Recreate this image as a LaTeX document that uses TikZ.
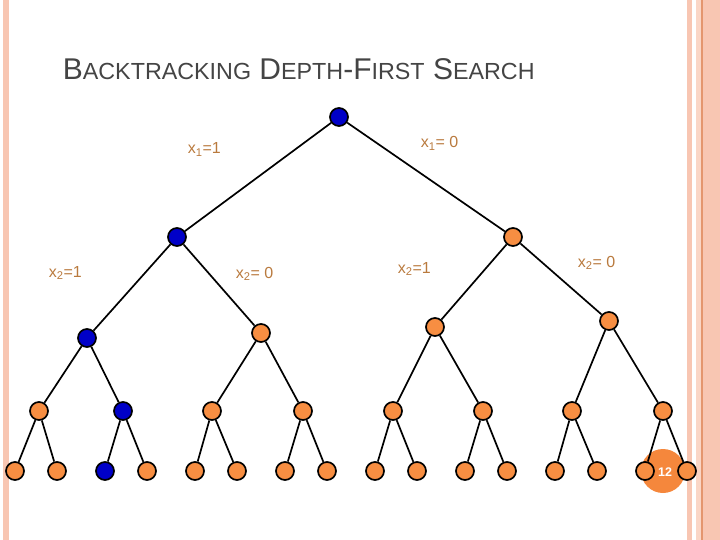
\documentclass[tikz,border=0pt]{standalone}
\usepackage{fontspec}
\setmainfont{Liberation Sans}
\definecolor{nodeorange}{RGB}{247,142,66}
\definecolor{nodeblue}{RGB}{0,0,200}
\definecolor{labelbrown}{RGB}{185,122,62}
\definecolor{titlegray}{RGB}{68,68,68}
\definecolor{peach}{RGB}{248,198,178}
\definecolor{peachlight}{RGB}{250,214,198}
\definecolor{peachdark}{RGB}{228,150,110}
\definecolor{badgeorange}{RGB}{245,135,60}
\newcommand\tcap[1]{{\fontsize{30}{34}\selectfont #1}}
\newcommand\tsml[1]{{\fontsize{23.3}{27}\selectfont #1}}
\tikzset{
	vtx/.style={circle,draw,minimum size=18pt,inner sep=0pt},
	orn/.style={vtx,fill=nodeorange},
	blu/.style={vtx,fill=nodeblue},
	lbl/.style={text=labelbrown,font=\fontsize{16}{18}\selectfont,anchor=base west,inner sep=0pt},
}
\begin{document}
\begin{tikzpicture}[x=1pt,y=-1pt,line width=1.7pt]
	\useasboundingbox (0,0) rectangle (720,540);
	% slide borders
	\fill[peach] (3,0) rectangle (9,540);
	\fill[peach] (687,0) rectangle (692,540);
	\fill[peachlight] (696,0) rectangle (701,540);
	\fill[peach] (701,0) rectangle (720,540);
	\draw[peachdark,line width=1.2pt] (702,0) -- (702,540);
	% title
	\node[anchor=base west,text=titlegray,inner sep=0pt] (title) at (62,80) {\tcap{B}\tsml{ACKTRACKING}\tcap{ D}\tsml{EPTH}\tcap{-F}\tsml{IRST}\tcap{ S}\tsml{EARCH}};
	% page number
	\node[circle,fill=badgeorange,minimum size=44pt,inner sep=0pt] (num) at (663,471) {};
	\node[text=white,font=\bfseries\fontsize{12.5}{15}\selectfont,inner sep=0pt] (numtxt) at (665,472) {12};
	% tree
	\node[blu] (r) at (339,117) {};
	\node[blu] (a) at (177,237) {} edge (r);
	\node[orn] (b) at (513,237) {} edge (r);
	\node[blu] (a1) at (87,338) {} edge (a);
	\node[orn] (a2) at (261,333) {} edge (a);
	\node[orn] (b1) at (435,327) {} edge (b);
	\node[orn] (b2) at (609,321) {} edge (b);
	\foreach \i/\x/\p/\s in {1/39/a1/orn, 2/123/a1/blu, 3/212/a2/orn, 4/303/a2/orn, 5/393/b1/orn, 6/483/b1/orn, 7/572/b2/orn, 8/663/b2/orn}
		\node[\s] (c\i) at (\x,411) {} edge (\p);
	\foreach \j/\x/\p/\s in {1/15/1/orn, 2/57/1/orn, 3/105/2/blu, 4/147/2/orn, 5/195/3/orn, 6/237/3/orn, 7/285/4/orn, 8/327/4/orn, 9/375/5/orn, 10/417/5/orn, 11/465/6/orn, 12/507/6/orn, 13/555/7/orn, 14/597/7/orn, 15/645/8/orn, 16/687/8/orn}
		\node[\s] (d\j) at (\x,471) {} edge (c\p);
	% labels
	\node[lbl] (x1a) at (187,154) {x\textsubscript{1}=1};
	\node[lbl] (x1b) at (420,148) {x\textsubscript{1}= 0};
	\node[lbl] (x2a) at (48,277) {x\textsubscript{2}=1};
	\node[lbl] (x2b) at (235,278) {x\textsubscript{2}= 0};
	\node[lbl] (x2c) at (397,273) {x\textsubscript{2}=1};
	\node[lbl] (x2d) at (577,267) {x\textsubscript{2}= 0};
\end{tikzpicture}
\end{document}
